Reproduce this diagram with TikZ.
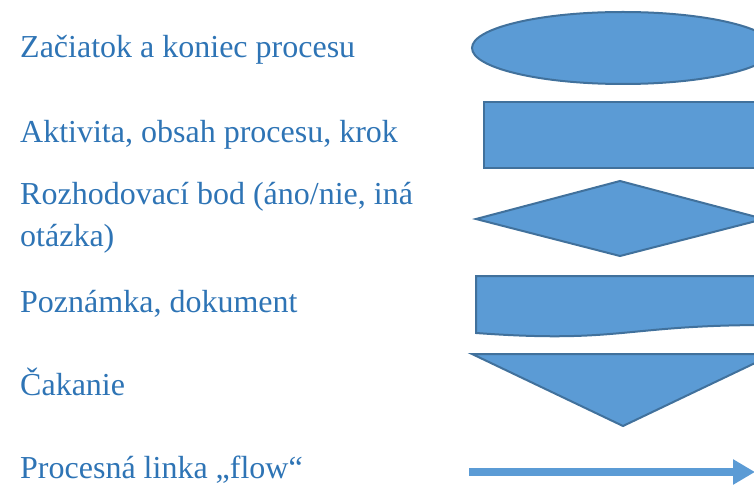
\documentclass[tikz,border=0pt]{standalone}
\usepackage{fontspec}
\setmainfont{Liberation Serif}
\usetikzlibrary{arrows.meta}
\definecolor{txtblue}{HTML}{2E74B5}
\definecolor{shapefill}{HTML}{5B9BD5}
\definecolor{shapeline}{HTML}{41719C}
\tikzset{
  lbl/.style={anchor=base west, inner sep=0pt, text=txtblue, font=\fontsize{32}{42}\selectfont, align=left},
  shp/.style={fill=shapefill, draw=shapeline, line width=2pt, line join=miter},
  flowarrow/.style={draw=shapefill, line width=8pt, -{Triangle[length=22pt,width=24pt]}}
}
\begin{document}
\begin{tikzpicture}[x=1pt,y=-1pt]
\useasboundingbox (0,0) rectangle (754,486);
\clip (0,0) rectangle (754,486);
% labels
\node[lbl] (t1) at (20,58) {Začiatok a koniec procesu};
\node[lbl] (t2) at (20,143) {Aktivita, obsah procesu, krok};
\node[lbl] (t3) at (20,247) {Rozhodovací bod (áno/nie, iná\\otázka)};
\node[lbl] (t4) at (20,312) {Poznámka, dokument};
\node[lbl] (t5) at (20,395) {Čakanie};
\node[lbl] (t6) at (20,478) {Procesná linka „flow“};
% shapes
\draw[shp] (623,48) ellipse [x radius=151, y radius=36];
\draw[shp] (484,102) rectangle (760,168);
\draw[shp] (476,219) -- (620,181) -- (764,219) -- (620,256) -- cycle;
\draw[shp] (476,276) -- (768,276) -- (768,325)
  .. controls (622,325) and (622,343.6) .. (476,333) -- cycle;
\draw[shp] (472,354) -- (774,354) -- (623,426) -- cycle;
% flow arrow
\coordinate (aS) at (469,472);
\coordinate (aE) at (755,472);
\draw[flowarrow] (aS) -- (aE);
\end{tikzpicture}
\end{document}
